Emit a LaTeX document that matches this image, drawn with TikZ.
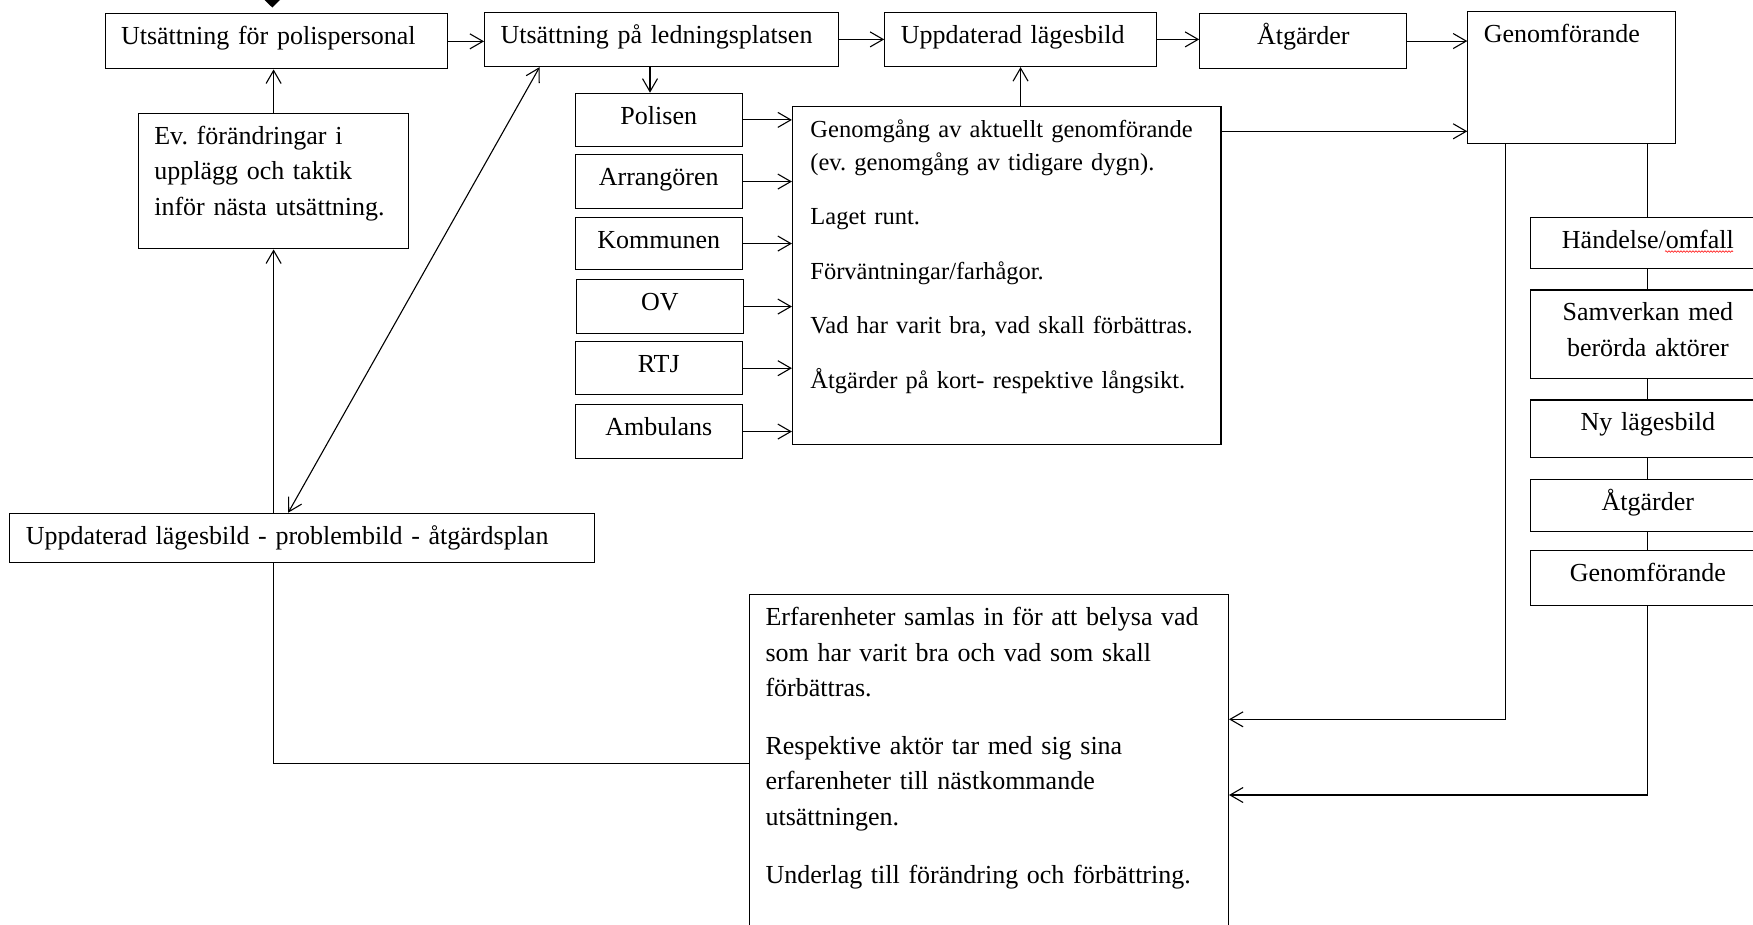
\documentclass[tikz,border=0pt]{standalone}
\usepackage{fontspec}
\setmainfont{Liberation Serif}
\usepackage{tikz}
\usetikzlibrary{arrows.meta,decorations.pathmorphing}
\frenchspacing

\begin{document}
\begin{tikzpicture}[x=1pt,y=1pt,yscale=-1,xscale=1,
    line width=1.1pt,
    >={Straight Barb[length=13pt,width=15pt]},
    txt/.style={font=\fontsize{26}{35.5}\selectfont},
    box/.style={draw, txt, rectangle, anchor=north west, inner xsep=16pt, inner ysep=0pt, text height=31pt, align=left},
    cbox/.style={box, align=center}]
    %set diagram left start at 0, and has height of 924
    \useasboundingbox[fill=white] (0,0) rectangle (1753,924);

    %Shape: Triangle (tip coming in from above)
    \fill (264.5,0) -- (280,0) -- (272.3,7.5) -- cycle ;

    % Text Node
    \draw (104.5,13.3) node [box, text width=310pt, text depth=24pt] (utspolis) {Utsättning för polispersonal};
    % Text Node
    \draw (484,11.7) node [box, text width=322pt, text depth=23.3pt] (utsledn) {Utsättning på ledningsplatsen};
    % Text Node
    \draw (884.2,11.7) node [box, text width=239.6pt, text depth=23.3pt] (lage) {Uppdaterad lägesbild};
    % Text Node
    \draw (1199.2,13) node [cbox, text width=175pt, text depth=24pt] (atg) {Åtgärder};
    % Text Node
    \draw (1467.3,11.1) node [box, text width=175.3pt, text depth=101pt] (genomf) {Genomförande};
    % Text Node
    \draw (137.8,112.7) node [box, text width=238.5pt, text depth=104.6pt] (evforand) {Ev. förändringar i\\ upplägg och taktik\\ inför nästa utsättning.};

    % Text Node
    \draw (574.7,92.7) node [cbox, text width=135pt, text depth=22.3pt] (polisen) {Polisen};
    % Text Node
    \draw (574.7,154.3) node [cbox, text width=135pt, text depth=22.4pt] (arrang) {Arrangören};
    % Text Node
    \draw (574.7,216.7) node [cbox, text width=135pt, text depth=21.6pt] (kommun) {Kommunen};
    % Text Node
    \draw (575.7,279.3) node [cbox, text width=135.3pt, text depth=22.4pt] (ov) {OV};
    % Text Node
    \draw (574.7,341) node [cbox, text width=135pt, text depth=22.3pt] (rtj) {RTJ};
    % Text Node
    \draw (574.7,404.3) node [cbox, text width=135pt, text depth=22.4pt] (ambul) {Ambulans};

    % Text Node
    \draw (791.9,106) node [box, font=\fontsize{24.5}{32.5}\selectfont, inner xsep=18pt, text width=392.5pt, text depth=307.3pt] (genomgang) {Genomgång av aktuellt genomförande\\ (ev. genomgång av tidigare dygn).\\[22pt] Laget runt.\\[22pt] Förväntningar/farhågor.\\[22pt] Vad har varit bra, vad skall förbättras.\\[22pt] Åtgärder på kort- respektive långsikt.};

    % Text Node
    \draw (9.2,512.7) node [box, text width=552.8pt, text depth=18pt] (plan) {Uppdaterad lägesbild - problembild - åtgärdsplan};
    % Text Node
    \draw (749,594) node [box, text width=446.9pt, text depth=306.4pt] (erfar) {Erfarenheter samlas in för att belysa vad\\ som har varit bra och vad som skall\\ förbättras.\\[22pt] Respektive aktör tar med sig sina\\ erfarenheter till nästkommande\\ utsättningen.\\[23pt] Underlag till förändring och förbättring.};

    % Text Node
    \draw (1529.6,216.7) node [cbox, text width=203.4pt, text depth=20.4pt] (handelse) {Händelse/omfall};
    % Text Node
    \draw (1529.6,289.4) node [cbox, text width=203.4pt, text depth=57.6pt] (samverkan) {Samverkan med\\ berörda aktörer};
    % Text Node
    \draw (1529.6,399.4) node [cbox, text width=203.4pt, text depth=26.3pt] (nylage) {Ny lägesbild};
    % Text Node
    \draw (1529.6,479.2) node [cbox, text width=203.4pt, text depth=20.8pt] (atg2) {Åtgärder};
    % Text Node
    \draw (1529.6,549.6) node [cbox, text width=203.4pt, text depth=24.4pt] (genomf2) {Genomförande};

    %Spelling mark under omfall
    \draw [red, line width=0.6pt, decorate, decoration={snake, amplitude=0.8pt, segment length=3pt}] (1665,251.5) -- (1733,251.5) ;

    %Straight Lines
    \draw [->] (utspolis.east) -- (utspolis.east -| utsledn.west) ;
    \draw [->] (utsledn.east) -- (utsledn.east -| lage.west) ;
    \draw [->] (lage.east) -- (lage.east -| atg.west) ;
    \draw [->] (atg.east) -- (atg.east -| genomf.west) ;
    \draw [->] (genomgang.east |- 0,131.3) -- (genomf.west |- 0,131.3) ;
    \draw [->] (650,0 |- utsledn.south) -- (650,0 |- polisen.north) ;
    \draw [->] (polisen.east) -- (polisen.east -| genomgang.west) ;
    \draw [->] (arrang.east) -- (arrang.east -| genomgang.west) ;
    \draw [->] (kommun.east) -- (kommun.east -| genomgang.west) ;
    \draw [->] (ov.east) -- (ov.east -| genomgang.west) ;
    \draw [->] (rtj.east) -- (rtj.east -| genomgang.west) ;
    \draw [->] (ambul.east) -- (ambul.east -| genomgang.west) ;
    \draw [->] (lage.south |- genomgang.north) -- (lage.south) ;
    \draw [->] (evforand.north) -- (evforand.north |- utspolis.south) ;
    \draw [->] (evforand.south |- plan.north) -- (evforand.south) ;
    \draw (evforand.south |- plan.south) |- (erfar.west) ;
    \draw [<->] ([xshift=55.6pt]utsledn.south west) -- ([xshift=279pt]plan.north west) ;
    \draw [->] (1505.7,0 |- genomf.south) |- (erfar.east |- 0,719.3) ;
    \draw (handelse.north |- genomf.south) -- (handelse.north) ;
    \draw (handelse.south) -- (samverkan.north) ;
    \draw (samverkan.south) -- (nylage.north) ;
    \draw (nylage.south) -- (atg2.north) ;
    \draw (atg2.south) -- (genomf2.north) ;
    \draw [->] (genomf2.south) |- (erfar.east |- 0,795) ;

\end{tikzpicture}
\end{document}
